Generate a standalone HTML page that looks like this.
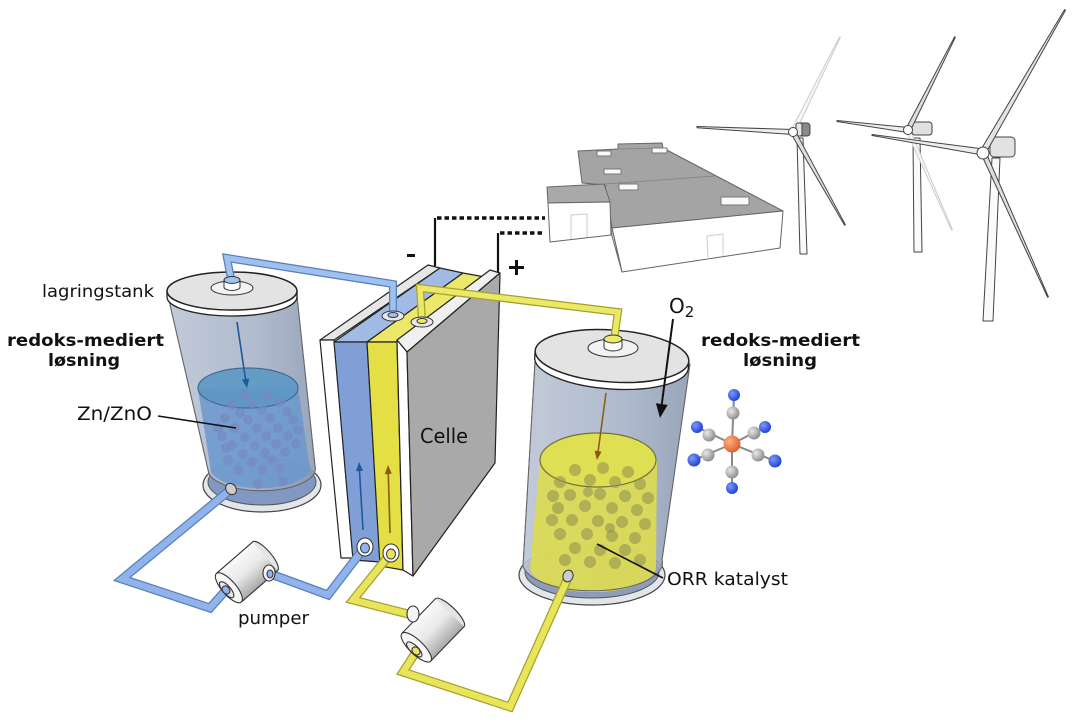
<!DOCTYPE html>
<html><head><meta charset="utf-8"><style>
html,body{margin:0;padding:0;background:#fff}
svg{display:block}
text{font-family:"DejaVu Sans","Liberation Sans",sans-serif;fill:#111}
</style></head><body>
<svg width="1080" height="723" viewBox="0 0 1080 723" xmlns="http://www.w3.org/2000/svg">
<defs>
 <linearGradient id="tankG" x1="0" x2="1" y1="0" y2="0">
  <stop offset="0" stop-color="#bcc5d4"/><stop offset="0.6" stop-color="#a2afc4"/><stop offset="1" stop-color="#8391aa"/>
 </linearGradient>
 <linearGradient id="pumpG" x1="0" x2="0" y1="0" y2="1">
  <stop offset="0" stop-color="#fafafa"/><stop offset="0.5" stop-color="#e8e8e8"/><stop offset="1" stop-color="#a8a8a8"/>
 </linearGradient>
 <radialGradient id="orG" cx="0.35" cy="0.35" r="0.7"><stop offset="0" stop-color="#ffb080"/><stop offset="1" stop-color="#d8602a"/></radialGradient>
 <radialGradient id="grG" cx="0.35" cy="0.35" r="0.7"><stop offset="0" stop-color="#e8e8e8"/><stop offset="1" stop-color="#8a8a8a"/></radialGradient>
 <radialGradient id="blG" cx="0.35" cy="0.35" r="0.7"><stop offset="0" stop-color="#7a9aff"/><stop offset="1" stop-color="#1f3fd0"/></radialGradient>
</defs>

<!-- ===== Wind turbines ===== -->
<g stroke="#444" stroke-width="1" stroke-linejoin="round">
 <polygon points="797,138 803,138 807,254 800,254" fill="#fafafa"/>
 <polygon points="795.2,133.1 840.4,37.2 839.6,36.8 790.8,130.9" fill="#f6f6f6" stroke="#ccc"/>
 <rect x="796" y="123" width="14" height="13" rx="3" fill="#8a8a8a"/>
 <rect x="796" y="123" width="6" height="13" rx="2" fill="#e6e6e6"/>
 <polygon points="793,129.5 697,126.5 697,127.8 793,134.5" fill="#eee"/>
 <polygon points="795.2,130.8 845.4,224.8 844.6,225.2 790.8,133.2" fill="#ddd"/>
 <circle cx="793" cy="132" r="4.5" fill="#fff"/>
 <polygon points="913,138 920,138 922,252 914,252" fill="#fafafa"/>
 <polygon points="909.8,129.2 952.4,229.8 951.6,230.2 906.2,130.8" fill="#f6f6f6" stroke="#ccc"/>
 <rect x="912" y="122" width="20" height="13" rx="3" fill="#e0e0e0"/>
 <polygon points="908.3,127.5 837,120.5 837,121.5 907.7,132.5" fill="#eee"/>
 <polygon points="910.2,131.1 955.4,37.2 954.6,36.8 905.8,128.9" fill="#ddd"/>
 <circle cx="908" cy="130" r="4.5" fill="#fff"/>
 <polygon points="992,158 1000,158 993,321 983,321" fill="#fafafa"/>
 <rect x="990" y="137" width="25" height="20" rx="4" fill="#e2e2e2"/>
 <polygon points="983.5,149 872,134.5 872,135.5 982.5,155" fill="#eee"/>
 <polygon points="985.6,153.5 1065.5,10.3 1064.5,9.7 980.4,150.5" fill="#e4e4e4"/>
 <polygon points="985.3,151 1048.4,296.8 1047.6,297.2 980.7,153" fill="#ddd"/>
 <circle cx="983" cy="153" r="6" fill="#fff"/>
</g>

<!-- ===== Building ===== -->
<g stroke="#666" stroke-width="1" stroke-linejoin="round">
 <polygon points="578,151 618,149 618,144 662,143 663,148 783,211 612,228 605,185 582,183" fill="#a4a4a4"/>
 <polygon points="612,228 783,211 780,248 622,272" fill="#fff"/>
 <polygon points="605,185 612,228 622,272 612,236" fill="#f2f2f2"/>
 <polygon points="547,187 604,184 610,202 548,203" fill="#a9a9a9"/>
 <polygon points="548,203 610,202 611,235 550,242" fill="#fff"/>
 <line x1="605" y1="184" x2="715" y2="176" stroke="#888"/>
 <line x1="618" y1="149" x2="663" y2="148" stroke="#888"/>
 <g fill="#fafafa" stroke="#777">
  <rect x="597" y="151" width="14" height="5"/>
  <rect x="652" y="148" width="15" height="5"/>
  <rect x="604" y="169" width="17" height="5"/>
  <rect x="619" y="184" width="19" height="6"/>
  <rect x="721" y="197" width="28" height="8"/>
 </g>
 <polyline points="571,239 571,215 587,214 587,237" fill="none" stroke="#ccc"/>
 <polyline points="708,259 707,236 723,234 723,256" fill="none" stroke="#ccc"/>
</g>

<!-- ===== Wires ===== -->
<g stroke="#111" fill="none">
 <path d="M435,266 L435,218" stroke-width="2.2"/>
 <path d="M437,218 L545,218" stroke-width="3.5" stroke-dasharray="4.5 3"/>
 <path d="M498,274 L498,233" stroke-width="2.2"/>
 <path d="M500,233 L545,233" stroke-width="3.5" stroke-dasharray="4.5 3"/>
</g>
<rect x="407" y="254" width="8" height="3" fill="#111"/>
<rect x="509" y="266" width="15" height="3" fill="#111"/>
<rect x="515" y="260" width="3" height="15" fill="#111"/>

<!-- ===== Left tank ===== -->
<g stroke-linejoin="round">
 <ellipse cx="262" cy="485" rx="59" ry="27" fill="#e2e5ea" stroke="#444" stroke-width="1.2"/>
 <ellipse cx="262" cy="482" rx="54" ry="23" fill="#8198c2" stroke="#555"/>
 <path d="M168,296 L209,474 A54,22 0 0 0 315,466 L297,296 Z" fill="url(#tankG)" fill-opacity=".85" stroke="#777"/>
 <path d="M198,389 L211,472 A50,21 0 0 0 309,462 L298,387 Z" fill="#5b90cc" fill-opacity=".85"/>
 <ellipse cx="248" cy="388" rx="50" ry="20" fill="#4a90c0" fill-opacity=".9" stroke="#2c5b85" stroke-width="1.2"/>
 <g fill="#6a7fbc" fill-opacity=".75">
  <circle cx="245" cy="395" r="5"/><circle cx="267" cy="396" r="5"/><circle cx="232" cy="405" r="5"/>
  <circle cx="252" cy="403" r="5"/><circle cx="280" cy="402" r="5"/><circle cx="240" cy="413" r="5"/>
  <circle cx="262" cy="410" r="5"/><circle cx="287" cy="412" r="5"/><circle cx="225" cy="418" r="5"/>
  <circle cx="248" cy="420" r="5"/><circle cx="270" cy="418" r="5"/><circle cx="293" cy="420" r="5"/>
  <circle cx="235" cy="428" r="5"/><circle cx="257" cy="428" r="5"/><circle cx="278" cy="428" r="5"/>
  <circle cx="222" cy="436" r="5"/><circle cx="245" cy="437" r="5"/><circle cx="266" cy="436" r="5"/>
  <circle cx="288" cy="436" r="5"/><circle cx="232" cy="445" r="5"/><circle cx="255" cy="446" r="5"/>
  <circle cx="276" cy="444" r="5"/><circle cx="296" cy="444" r="5"/><circle cx="243" cy="454" r="5"/>
  <circle cx="265" cy="453" r="5"/><circle cx="285" cy="452" r="5"/><circle cx="228" cy="460" r="5"/>
  <circle cx="252" cy="462" r="5"/><circle cx="272" cy="460" r="5"/><circle cx="238" cy="470" r="5"/>
  <circle cx="262" cy="470" r="5"/><circle cx="280" cy="468" r="5"/><circle cx="218" cy="428" r="5"/>
  <circle cx="298" cy="430" r="5"/><circle cx="226" cy="448" r="5"/><circle cx="258" cy="484" r="5"/>
  <circle cx="283" cy="481" r="5"/>
 </g>
 <path d="M168,296 L209,474 A54,22 0 0 0 315,466 L297,296 Z" fill="#b0bbd0" fill-opacity=".18" stroke="#666"/>
 <line x1="237" y1="322" x2="245.6" y2="380" stroke="#1f5a9a" stroke-width="1.6"/>
 <polygon points="247,388 249.3,378.5 241.9,379.6" fill="#1f5a9a"/>
 <path d="M167,291 L167,297 A65,19 0 0 0 297,297 L297,291 Z" fill="#fff" stroke="#222" stroke-width="1.3"/>
 <ellipse cx="232" cy="291" rx="65" ry="19" fill="#e3e3e3" stroke="#222" stroke-width="1.5"/>
 <ellipse cx="232" cy="288" rx="21" ry="7" fill="#f2f2f2" stroke="#333"/>
</g>

<!-- ===== Right tank ===== -->
<g stroke-linejoin="round">
 <ellipse cx="592" cy="575" rx="73" ry="30" fill="#e2e5ea" stroke="#444" stroke-width="1.2"/>
 <ellipse cx="592" cy="572" rx="67" ry="26" fill="#8d9cbb" stroke="#555"/>
 <path d="M535,362 L523,566 A68,27 0 0 0 662,560 L690,364 Z" fill="url(#tankG)" fill-opacity=".85" stroke="#777"/>
 <path d="M540,460 L530,568 A63,25 0 0 0 656,566 L657,460 Z" fill="#e4e13a" fill-opacity=".9"/>
 <ellipse cx="598" cy="460" rx="58" ry="27" fill="#e8e63e" stroke="#676620" stroke-width="1.2"/>
 <g fill="#8f8d3a" fill-opacity=".6">
  <circle cx="575" cy="470" r="6"/><circle cx="603" cy="468" r="6"/><circle cx="628" cy="472" r="6"/>
  <circle cx="560" cy="482" r="6"/><circle cx="590" cy="480" r="6"/><circle cx="615" cy="482" r="6"/>
  <circle cx="640" cy="484" r="6"/><circle cx="570" cy="495" r="6"/><circle cx="600" cy="494" r="6"/>
  <circle cx="625" cy="496" r="6"/><circle cx="648" cy="498" r="6"/><circle cx="558" cy="508" r="6"/>
  <circle cx="585" cy="506" r="6"/><circle cx="612" cy="508" r="6"/><circle cx="637" cy="510" r="6"/>
  <circle cx="572" cy="520" r="6"/><circle cx="598" cy="521" r="6"/><circle cx="622" cy="522" r="6"/>
  <circle cx="645" cy="524" r="6"/><circle cx="560" cy="534" r="6"/><circle cx="587" cy="534" r="6"/>
  <circle cx="612" cy="536" r="6"/><circle cx="635" cy="538" r="6"/><circle cx="575" cy="548" r="6"/>
  <circle cx="600" cy="550" r="6"/><circle cx="625" cy="550" r="6"/><circle cx="565" cy="560" r="6"/>
  <circle cx="590" cy="562" r="6"/><circle cx="615" cy="563" r="6"/><circle cx="640" cy="560" r="6"/>
  <circle cx="552" cy="520" r="6"/><circle cx="553" cy="496" r="6"/><circle cx="588" cy="492" r="5"/>
  <circle cx="610" cy="528" r="5"/>
 </g>
 <path d="M535,362 L523,566 A68,27 0 0 0 662,560 L690,364 Z" fill="#b0bbd0" fill-opacity=".15" stroke="#666"/>
 <line x1="606" y1="393" x2="598.1" y2="451.5" stroke="#8a5a10" stroke-width="1.5"/>
 <polygon points="597,460 601.6,451.6 594.6,450.6" fill="#8a5a10"/>
 <g transform="rotate(4 612 356)">
  <path d="M535,356 L535,363 A77,26 0 0 0 689,363 L689,356 Z" fill="#fff" stroke="#222" stroke-width="1.3"/>
  <ellipse cx="612" cy="356" rx="77" ry="26" fill="#e3e3e3" stroke="#222" stroke-width="1.5"/>
 </g>
 <ellipse cx="613" cy="348" rx="25" ry="9" fill="#f2f2f2" stroke="#333"/>
</g>

<!-- ===== Cell ===== -->
<g stroke="#222" stroke-width="1.2" stroke-linejoin="round">
 <polygon points="320,340 334,340 440,268 428,265" fill="#e6e6e6"/>
 <polygon points="334,342 367,342 463,273 440,268" fill="#a2bbe4"/>
 <polygon points="367,342 397,342 485,277 463,273" fill="#ebe86a"/>
 <polygon points="397,340 407,352 500,273 490,270" fill="#f0f0f0"/>
 <polygon points="320,340 334,340 353,558 341,558" fill="#fff"/>
 <polygon points="334,342 367,342 380,562 353,560" fill="#7f9fd6"/>
 <polygon points="367,342 397,342 403,570 380,566" fill="#e3df45"/>
 <polygon points="397,340 407,352 413,576 403,570" fill="#fff"/>
 <polygon points="407,352 500,273 495,463 413,576" fill="#a9a9a9"/>
</g>
<line x1="363" y1="530" x2="359.5" y2="471" stroke="#1f5a9a" stroke-width="1.6"/>
<polygon points="359,462 363,470.8 356,471.2" fill="#1f5a9a"/>
<line x1="390" y1="533" x2="388.3" y2="474" stroke="#8a5d10" stroke-width="1.6"/>
<polygon points="388,465 391.8,473.8 384.8,474.2" fill="#8a5d10"/>

<!-- ===== Pipes ===== -->
<g fill="none" stroke-linejoin="miter">
 <path d="M232,284 L227,258 L393,284 L393,314" stroke="#5a80bb" stroke-width="8"/>
 <path d="M232,284 L227,258 L393,284 L393,314" stroke="#a0c0ee" stroke-width="5.5"/>
 <path d="M230,490 L122,579 L210,608 L226,590" stroke="#5a80bb" stroke-width="9"/>
 <path d="M230,490 L122,579 L210,608 L226,590" stroke="#8fb3ea" stroke-width="6.5"/>
 <path d="M268,573 L328,595 L364,548" stroke="#5a80bb" stroke-width="9"/>
 <path d="M268,573 L328,595 L364,548" stroke="#8fb3ea" stroke-width="6.5"/>
 <path d="M422,320 L420,288 L618,312 L614,340" stroke="#a5a22a" stroke-width="8"/>
 <path d="M422,320 L420,288 L618,312 L614,340" stroke="#ebe86a" stroke-width="5.5"/>
 <path d="M391,553 L353,600 L412,615" stroke="#a5a22a" stroke-width="9"/>
 <path d="M391,553 L353,600 L412,615" stroke="#e8e55c" stroke-width="6.5"/>
 <path d="M416,652 L403,672 L510,707 L567,580" stroke="#a5a22a" stroke-width="9"/>
 <path d="M416,652 L403,672 L510,707 L567,580" stroke="#e8e55c" stroke-width="6.5"/>
</g>

<!-- fittings -->
<g stroke="#333" stroke-width="1">
 <ellipse cx="393" cy="316" rx="11" ry="5" fill="#e8e8e8"/>
 <ellipse cx="393" cy="315" rx="5" ry="2.5" fill="#a0c0ee"/>
 <ellipse cx="422" cy="322" rx="11" ry="5" fill="#e8e8e8"/>
 <ellipse cx="422" cy="321" rx="5" ry="2.5" fill="#ebe86a"/>
 <path d="M224,280 L224,287 A8,3.5 0 0 0 240,287 L240,280 Z" fill="#fff"/>
 <ellipse cx="232" cy="280" rx="8" ry="3.5" fill="#a0c0ee"/>
 <path d="M604,339 L604,347 A9,4 0 0 0 622,347 L622,339 Z" fill="#fff"/>
 <ellipse cx="613" cy="339" rx="9" ry="4" fill="#ebe86a"/>
 <ellipse cx="365" cy="547" rx="8" ry="9" fill="#fff"/>
 <ellipse cx="365" cy="548" rx="4.5" ry="5" fill="#8fb3ea"/>
 <ellipse cx="391" cy="553" rx="8" ry="9" fill="#fff"/>
 <ellipse cx="391" cy="554" rx="4.5" ry="5" fill="#e8e55c"/>
 <ellipse cx="231" cy="489" rx="5" ry="6" fill="#ccc" transform="rotate(-40 231 489)"/>
 <ellipse cx="568" cy="576" rx="5" ry="6" fill="#ccc" transform="rotate(20 568 576)"/>
</g>

<!-- ===== Pumps ===== -->
<g stroke="#333" stroke-width="1.1">
 <g transform="translate(247,572) rotate(-41)">
  <ellipse cx="24" cy="0" rx="6" ry="19" fill="#e4e4e4"/>
  <rect x="-24" y="-19" width="48" height="38" fill="url(#pumpG)" stroke="none"/>
  <line x1="-24" y1="-19" x2="24" y2="-19"/><line x1="-24" y1="19" x2="24" y2="19"/>
  <ellipse cx="-24" cy="0" rx="7" ry="19" fill="#f6f6f6"/>
  <ellipse cx="-27" cy="0" rx="4" ry="10" fill="#e8e8e8"/>
 </g>
 <ellipse cx="269" cy="573" rx="6" ry="8" fill="#f4f4f4"/>
 <ellipse cx="270" cy="574" rx="3" ry="4" fill="#8fb3ea"/>
 <ellipse cx="226" cy="590" rx="3.5" ry="4.5" fill="#8fb3ea" transform="rotate(-41 226 590)"/>
 <g transform="translate(433,630) rotate(-46)">
  <ellipse cx="24" cy="0" rx="6" ry="20" fill="#e4e4e4"/>
  <rect x="-24" y="-20" width="48" height="40" fill="url(#pumpG)" stroke="none"/>
  <line x1="-24" y1="-20" x2="24" y2="-20"/><line x1="-24" y1="20" x2="24" y2="20"/>
  <ellipse cx="-24" cy="0" rx="7" ry="20" fill="#f6f6f6"/>
  <ellipse cx="-27" cy="0" rx="4" ry="10" fill="#e8e8e8"/>
 </g>
 <ellipse cx="413" cy="614" rx="6" ry="8" fill="#f4f4f4"/>
 <ellipse cx="416" cy="651" rx="3.5" ry="4.5" fill="#e8e55c" transform="rotate(-46 416 651)"/>
</g>

<!-- ===== Molecule ===== -->
<g stroke="#888" stroke-width="2">
 <line x1="732" y1="444" x2="734" y2="395"/><line x1="732" y1="444" x2="732" y2="488"/>
 <line x1="732" y1="444" x2="697" y2="427"/><line x1="732" y1="444" x2="765" y2="427"/>
 <line x1="732" y1="444" x2="694" y2="460"/><line x1="732" y1="444" x2="775" y2="461"/>
</g>
<g>
 <circle cx="734" cy="395" r="6" fill="url(#blG)"/><circle cx="697" cy="427" r="6" fill="url(#blG)"/>
 <circle cx="765" cy="427" r="6" fill="url(#blG)"/>
 <circle cx="733" cy="413" r="6.5" fill="url(#grG)"/><circle cx="709" cy="435" r="6.5" fill="url(#grG)"/>
 <circle cx="754" cy="433" r="6.5" fill="url(#grG)"/>
 <circle cx="732" cy="444" r="8.5" fill="url(#orG)"/>
 <circle cx="708" cy="455" r="6.5" fill="url(#grG)"/><circle cx="758" cy="455" r="6.5" fill="url(#grG)"/>
 <circle cx="732" cy="472" r="6.5" fill="url(#grG)"/>
 <circle cx="694" cy="460" r="6.5" fill="url(#blG)"/><circle cx="775" cy="461" r="6.5" fill="url(#blG)"/>
 <circle cx="732" cy="488" r="6" fill="url(#blG)"/>
</g>

<!-- ===== O2 arrow & leaders ===== -->
<line x1="673" y1="319" x2="661.8" y2="404" stroke="#111" stroke-width="2"/>
<polygon points="660,418 667.7,404.9 655.9,403.3" fill="#111"/>
<line x1="158" y1="416" x2="236" y2="428" stroke="#111" stroke-width="1.6"/>
<line x1="597" y1="544" x2="663" y2="578" stroke="#111" stroke-width="1.6"/>

<!-- ===== Text ===== -->
<text x="42" y="297" font-size="17" textLength="112" lengthAdjust="spacingAndGlyphs">lagringstank</text>
<text x="7" y="346" font-size="17" font-weight="bold" textLength="157" lengthAdjust="spacingAndGlyphs">redoks-mediert</text>
<text x="48" y="366" font-size="17" font-weight="bold" textLength="72" lengthAdjust="spacingAndGlyphs">løsning</text>
<text x="77" y="420" font-size="19" textLength="75" lengthAdjust="spacingAndGlyphs">Zn/ZnO</text>
<text x="420" y="443" font-size="20" textLength="48" lengthAdjust="spacingAndGlyphs">Celle</text>
<text x="667" y="585" font-size="18" textLength="121" lengthAdjust="spacingAndGlyphs">ORR katalyst</text>
<text x="238" y="624" font-size="18" textLength="71" lengthAdjust="spacingAndGlyphs">pumper</text>
<text x="669" y="313" font-size="20">O<tspan font-size="15" dy="4">2</tspan></text>
<text x="701" y="346" font-size="17" font-weight="bold" textLength="159" lengthAdjust="spacingAndGlyphs">redoks-mediert</text>
<text x="743" y="366" font-size="17" font-weight="bold" textLength="74" lengthAdjust="spacingAndGlyphs">løsning</text>
</svg>
</body></html>
